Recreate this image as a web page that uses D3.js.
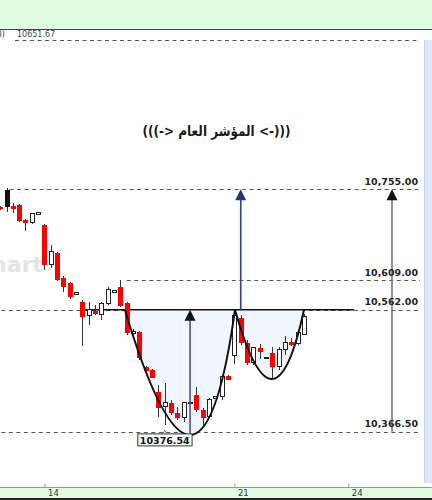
<!DOCTYPE html>
<html>
<head>
<meta charset="utf-8">
<script src="https://cdnjs.cloudflare.com/ajax/libs/d3/7.8.5/d3.min.js"></script>
<style>
  html, body { margin: 0; padding: 0; background: #fff; }
  svg { display: block; }
  text { font-family: "DejaVu Sans", sans-serif; }
</style>
</head>
<body>
<svg id="chart" width="432" height="500"></svg>
<script>
// candles, one per hour, index -1 .. 47
const candleIdx = d3.range(-1, 48);
const opens = [10726.6, 10753.9, 10728.2, 10729.8, 10705.8, 10701.0, 10713.8, 10697.8, 10633.7, 10652.9,
  10612.8, 10604.8, 10585.6, 10574.4, 10551.9, 10560.0, 10555.0, 10571.2, 10588.8, 10598.4,
  10572.8, 10525.5, 10526.3, 10470.9, 10465.4, 10430.2, 10406.1, 10412.5, 10396.5, 10388.5,
  10410.9, 10425.3, 10400.5, 10390.1, 10419.0, 10422.2, 10455.8, 10487.8, 10548.7, 10508.6,
  10476.6, 10500.6, 10483.8, 10492.6, 10470.2, 10497.4, 10510.2, 10508.6, 10521.5];
const highs = [10728.2, 10757.1, 10733.0, 10731.4, 10707.4, 10717.0, 10717.8, 10698.6, 10665.7, 10654.5,
  10616.0, 10606.4, 10589.6, 10577.6, 10574.4, 10569.6, 10574.4, 10598.4, 10592.8, 10609.0,
  10574.4, 10531.0, 10527.9, 10471.8, 10466.2, 10441.4, 10444.6, 10417.3, 10406.1, 10414.1,
  10414.1, 10437.8, 10404.5, 10420.6, 10423.0, 10457.4, 10456.6, 10558.0, 10553.5, 10513.5,
  10502.2, 10507.0, 10485.4, 10502.2, 10502.2, 10519.9, 10516.7, 10527.9, 10555.0];
const lows = [10721.8, 10718.6, 10717.0, 10702.6, 10688.2, 10699.4, 10713.0, 10625.7, 10628.9, 10608.0,
  10590.4, 10579.2, 10584.8, 10503.8, 10537.5, 10554.2, 10545.5, 10569.6, 10588.0, 10566.4,
  10521.5, 10521.0, 10481.4, 10463.0, 10451.8, 10390.1, 10376.54, 10393.3, 10385.3, 10382.1,
  10410.1, 10398.1, 10377.3, 10388.5, 10418.2, 10417.3, 10448.6, 10475.0, 10505.4, 10473.4,
  10473.4, 10483.0, 10483.8, 10452.6, 10465.4, 10489.4, 10503.8, 10505.4, 10520.7];
const closes = [10723.4, 10726.6, 10723.4, 10704.2, 10701.0, 10715.4, 10717.0, 10633.7, 10654.5, 10609.6,
  10598.4, 10582.4, 10588.8, 10550.3, 10561.6, 10555.0, 10571.2, 10593.6, 10592.0, 10568.0,
  10524.7, 10526.5, 10484.6, 10463.8, 10452.6, 10404.5, 10412.5, 10396.5, 10388.5, 10412.5,
  10413.3, 10401.3, 10388.5, 10417.3, 10422.2, 10454.2, 10449.4, 10551.9, 10508.6, 10476.6,
  10500.6, 10494.2, 10485.4, 10470.2, 10497.4, 10510.2, 10506.2, 10524.7, 10550.3];

// horizontal levels
const levels = [10755, 10609, 10562, 10366.5];
const levelLabels = ["10,755.00", "10,609.00", "10,562.00", "10,366.50"];
const levelStart = [0.5, 19, -2, -2];

// x axis
const tickIdx = [6, 36, 54];
const tickLabels = ["14", "21", "24"];

// pattern annotations: [index, price]
const neckline = 10562;
const bigCup = [[18.7, 10562], [29, 10361.2], [36.1, 10562]];
const smallCup = [[36.1, 10562], [41.9, 10451], [47, 10562]];
const lowIdx = 25, lowValue = 10376.54;
const title = "(((-> المؤشر العام <-)))";

const W = 432, H = 500;
const plotTop = 30, plotBottom = 487, plotRight = 424;

const svg = d3.select("#chart");
const x = d3.scaleLinear().domain([-1.027, 67.22]).range([0, W]);
const y = d3.scaleLinear().domain([10277.8, 11010.3]).range([plotBottom, plotTop]);

// frame
svg.append("rect").attr("width", W).attr("height", H).attr("fill", "#fff");
svg.append("rect").attr("width", W).attr("height", 29).attr("fill", "#e1fde1");
svg.append("line").attr("x1", 0).attr("x2", W).attr("y1", 29.5).attr("y2", 29.5)
  .attr("stroke", "#444").attr("stroke-width", 1.2);
svg.append("rect").attr("y", plotBottom).attr("width", W).attr("height", H - plotBottom).attr("fill", "#e1fde1");
svg.append("rect").attr("y", 498).attr("width", W).attr("height", 2).attr("fill", "#222");
svg.append("rect").attr("x", plotRight).attr("y", 40).attr("width", W - plotRight).attr("height", 443)
  .attr("fill", "#dde7f5");
svg.append("line").attr("x1", plotRight + 0.5).attr("x2", plotRight + 0.5).attr("y1", 40).attr("y2", 483)
  .attr("stroke", "#c3d2e8");

svg.append("defs").append("clipPath").attr("id", "plot")
  .append("rect").attr("x", 0).attr("y", plotTop).attr("width", plotRight).attr("height", plotBottom - plotTop);
const g = svg.append("g").attr("clip-path", "url(#plot)");

// watermark
g.append("text").attr("x", 43).attr("y", 272).attr("text-anchor", "end")
  .attr("font-family", "Liberation Sans, sans-serif").attr("font-weight", "bold").attr("font-size", 22)
  .attr("fill", "#e4e4e4").text("chart");

// top line + value from previous study
g.append("line").attr("x1", 15).attr("x2", 418).attr("y1", 40.5).attr("y2", 40.5)
  .attr("stroke", "#555").attr("stroke-dasharray", "4,3.5");
svg.append("text").attr("x", 5).attr("y", 37).attr("text-anchor", "end").attr("font-size", 8)
  .attr("fill", "#444").text("(3)");
svg.append("text").attr("x", 17).attr("y", 37).attr("font-size", 8)
  .attr("fill", "#444").text("10651.67");

// dashed levels
levels.forEach((v, k) => {
  g.append("line")
    .attr("x1", x(levelStart[k])).attr("x2", 420)
    .attr("y1", Math.round(y(v)) + 0.5).attr("y2", Math.round(y(v)) + 0.5)
    .attr("stroke", "#555").attr("stroke-dasharray", "4,3.5");
});

// cup fills
function cupPath(pts) {
  const p0 = [x(pts[0][0]), y(pts[0][1])];
  const pm = [x(pts[1][0]), y(pts[1][1])];
  const p2 = [x(pts[2][0]), y(pts[2][1])];
  const c = [2 * pm[0] - (p0[0] + p2[0]) / 2, 2 * pm[1] - (p0[1] + p2[1]) / 2];
  const p = d3.path();
  p.moveTo(p0[0], p0[1]);
  p.quadraticCurveTo(c[0], c[1], p2[0], p2[1]);
  return p.toString();
}
[bigCup, smallCup].forEach(c => {
  g.append("path").attr("d", cupPath(c) + "Z").attr("fill", "#f1f5fd");
});

// neckline
g.append("line").attr("x1", x(11.8)).attr("x2", x(54.9))
  .attr("y1", y(neckline)).attr("y2", y(neckline))
  .attr("stroke", "#111").attr("stroke-width", 1.6);

// candles
const candles = candleIdx.map((idx, k) => ({
  idx, o: opens[k], h: highs[k], l: lows[k], c: closes[k],
  prev: k > 0 ? closes[k - 1] : Infinity
}));
const bw = 4.4;
const cg = g.append("g").attr("shape-rendering", "crispEdges");
cg.selectAll(".wick").data(candles).enter().append("line")
  .attr("x1", d => Math.round(x(d.idx)) + 0.5).attr("x2", d => Math.round(x(d.idx)) + 0.5)
  .attr("y1", d => y(d.h)).attr("y2", d => y(d.l))
  .attr("stroke", "#333").attr("stroke-width", 1);
cg.selectAll(".body").data(candles).enter().append("rect")
  .attr("x", d => Math.round(x(d.idx)) + 0.5 - bw / 2)
  .attr("y", d => y(Math.max(d.o, d.c)))
  .attr("width", bw)
  .attr("height", d => Math.max(1.5, Math.abs(y(d.o) - y(d.c))))
  .attr("fill", d => d.c >= d.o ? "#fff" : (d.c > d.prev ? "#111" : "#f00"))
  .attr("stroke", d => d.c >= d.o ? "#222" : "none")
  .attr("stroke-width", 1);

// cup outlines
[bigCup, smallCup].forEach(c => {
  g.append("path").attr("d", cupPath(c)).attr("fill", "none")
    .attr("stroke", "#111").attr("stroke-width", 2);
});

// arrows
function arrow(idx, from, to, lineColor, headColor, width) {
  const ax = x(idx), tip = y(to);
  g.append("line").attr("x1", ax).attr("x2", ax).attr("y1", y(from)).attr("y2", tip + 10)
    .attr("stroke", lineColor).attr("stroke-width", width);
  g.append("path")
    .attr("d", `M${ax},${tip} L${ax - 5.5},${tip + 11} L${ax + 5.5},${tip + 11} Z`)
    .attr("fill", headColor);
}
arrow(29, 10361.2, neckline, "#564b8e", "#111", 1.6);
arrow(37, neckline, levels[0], "#2f3f82", "#26357a", 1.6);
arrow(60.9, levels[3], levels[0], "#7a7a7a", "#111", 1.6);

// level labels
levels.forEach((v, k) => {
  svg.append("text").attr("x", 418).attr("y", y(v) - 4.5).attr("text-anchor", "end")
    .attr("font-size", 9.5).attr("font-weight", "bold").attr("fill", "#222")
    .text(levelLabels[k]);
});

// low label
const lx = x(lowIdx), ly = y(lowValue);
const lowG = svg.append("g");
const lowText = lowG.append("text").attr("x", lx).attr("y", ly + 18.5).attr("text-anchor", "middle")
  .attr("font-size", 9.5).attr("font-weight", "bold").attr("fill", "#111")
  .text(d3.format(".2f")(lowValue));
const bb = lowText.node().getBBox();
lowG.insert("rect", "text").attr("x", bb.x - 2).attr("y", ly + 8.5).attr("width", bb.width + 4).attr("height", 12)
  .attr("fill", "#fff").attr("stroke", "#333").attr("stroke-width", 1);
lowG.append("path").attr("d", `M${lx - 2},${ly + 8.5} L${lx},${ly + 5} L${lx + 2},${ly + 8.5}`)
  .attr("fill", "none").attr("stroke", "#555").attr("stroke-width", 0.8);

// title
svg.append("text").attr("x", 216.5).attr("y", 136).attr("text-anchor", "middle")
  .attr("font-size", 14.5).attr("font-weight", "bold").attr("fill", "#1a1a1a")
  .attr("textLength", 148).attr("lengthAdjust", "spacingAndGlyphs")
  .text(title);

// x axis
const axis = d3.axisBottom(x).tickValues(tickIdx).tickFormat((d, k) => tickLabels[k])
  .tickSizeInner(-4).tickSizeOuter(0).tickPadding(2);
const ax = svg.append("g").attr("transform", `translate(0,${plotBottom + 0.5})`).call(axis);
ax.select(".domain").attr("stroke", "#999").attr("d", `M0,0H${W}`);
ax.selectAll(".tick line").attr("stroke", "#999");
ax.selectAll(".tick text").attr("text-anchor", "start").attr("dx", 3)
  .attr("font-family", "DejaVu Sans, sans-serif").attr("font-size", 8.5).attr("fill", "#333");
</script>
</body>
</html>
